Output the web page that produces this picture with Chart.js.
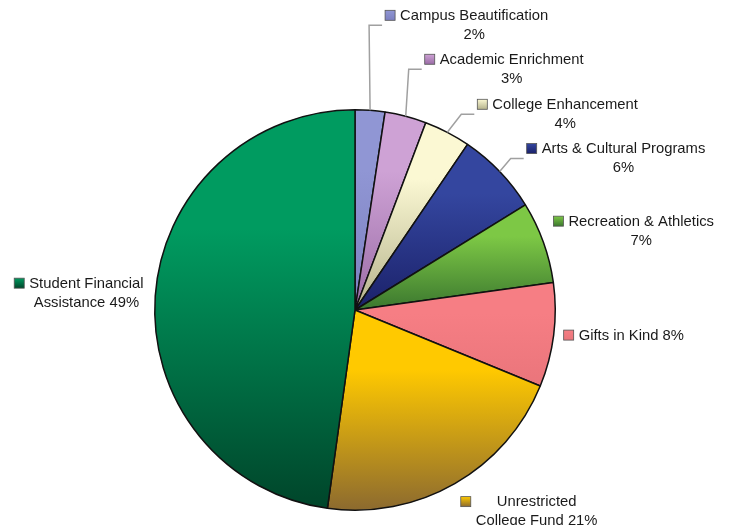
<!DOCTYPE html>
<html>
<head>
<meta charset="utf-8">
<script src="https://cdn.jsdelivr.net/npm/chart.js@4.4.1/dist/chart.umd.min.js"></script>
<style>
    html, body { margin: 0; padding: 0; background: #fff; }
    #wrap { width: 729px; height: 525px; position: relative; }
</style>
</head>
<body>
<div id="wrap"><canvas id="myChart"></canvas></div>
<script>
// slice names, share of the pie (as drawn) and the printed percentage labels
const categories = ['Campus Beautification', 'Academic Enrichment', 'College Enhancement', 'Arts & Cultural Programs',
    'Recreation & Athletics', 'Gifts in Kind', 'Unrestricted College Fund', 'Student Financial Assistance'];
const shares = [2.4, 3.35, 3.75, 6.7, 6.6, 8.4, 21.0, 47.8];
const pctLabels = ['2%', '3%', '4%', '6%', '7%', '8%', '21%', '49%'];

// label text lines for each slice
const labelLines = [
    ['Campus Beautification', '2%'],
    ['Academic Enrichment', '3%'],
    ['College Enhancement', '4%'],
    ['Arts & Cultural Programs', '6%'],
    ['Recreation & Athletics', '7%'],
    ['Gifts in Kind 8%'],
    ['Unrestricted', 'College Fund 21%'],
    ['Student Financial', 'Assistance 49%']
];

// light (top) and dark (bottom) fill of each slice
const topColors = ['#9096d4', '#cea2d5', '#fbf8d3', '#34469f', '#7dc845', '#f67e84', '#ffc900', '#009b60'];
const bottomColors = ['#7c80c0', '#9a6ca6', '#b4b28c', '#1b2169', '#3b772f', '#ea757b', '#8c6a2f', '#00452a'];

// where each label's key square sits, relative to the slice's outer mid point
const labelLayout = [
    { dx: 15, dy: -100, leader: true },
    { dx: 19, dy: -62, leader: true },
    { dx: 30, dy: -33, leader: true },
    { dx: 27, dy: -28, leader: true },
    { dx: 10, dy: -26, leader: false },
    { dx: 10, dy: -5, leader: false },
    { dx: 6, dy: 13, leader: false },
    { dx: -141, dy: -18, leader: false }
];

const fontSpec = '14.8px "Liberation Sans", Arial, sans-serif';

const arcBox = function (arc) {
    // vertical extent of a slice, used to stretch its gradient
    let ys = [arc.y];
    let a0 = arc.startAngle, a1 = arc.endAngle;
    let steps = 40;
    for (let i = 0; i <= steps; i++) {
        let a = a0 + (a1 - a0) * i / steps;
        ys.push(arc.y + Math.sin(a) * arc.outerRadius);
    }
    return { top: Math.min(...ys), bottom: Math.max(...ys) };
};

const gradientPlugin = {
    id: 'sliceGradient',
    beforeDatasetsDraw(chart) {
        const ctx = chart.ctx;
        const meta = chart.getDatasetMeta(0);
        meta.data.forEach(function (arc, i) {
            let box = arcBox(arc);
            let g = ctx.createLinearGradient(0, box.top, 0, box.bottom);
            g.addColorStop(0, topColors[i]);
            g.addColorStop(0.3, topColors[i]);
            g.addColorStop(1, bottomColors[i]);
            arc.options.backgroundColor = g;
        });
    }
};

const labelPlugin = {
    id: 'sliceLabels',
    afterDatasetsDraw(chart) {
        const ctx = chart.ctx;
        const meta = chart.getDatasetMeta(0);
        ctx.save();
        ctx.font = fontSpec;
        meta.data.forEach(function (arc, i) {
            let mid = (arc.startAngle + arc.endAngle) / 2;
            let ax = arc.x + Math.cos(mid) * arc.outerRadius;
            let ay = arc.y + Math.sin(mid) * arc.outerRadius;
            let lay = labelLayout[i];
            let sx = ax + lay.dx;
            let sy = ay + lay.dy;

            if (lay.leader) {
                ctx.strokeStyle = '#a0a0a0';
                ctx.lineWidth = 1.5;
                ctx.beginPath();
                ctx.moveTo(ax, ay);
                ctx.lineTo(Math.max(ax - 2, sx - 16), sy + 15);
                ctx.lineTo(sx - 3, sy + 15);
                ctx.stroke();
            }

            // key square
            let kg = ctx.createLinearGradient(0, sy, 0, sy + 10);
            kg.addColorStop(0, topColors[i]);
            kg.addColorStop(1, bottomColors[i]);
            ctx.fillStyle = kg;
            ctx.fillRect(sx, sy, 10, 10);
            ctx.strokeStyle = '#555';
            ctx.lineWidth = 0.8;
            ctx.strokeRect(sx, sy, 10, 10);

            let lines = labelLines[i];
            let maxW = 0;
            lines.forEach(function (t) { maxW = Math.max(maxW, ctx.measureText(t).width); });
            let cx = sx + 15 + maxW / 2;
            ctx.fillStyle = '#1a1a1a';
            ctx.textAlign = 'center';
            ctx.textBaseline = 'middle';
            lines.forEach(function (t, k) {
                ctx.fillText(t, cx, sy + 5.5 + k * 19);
            });
        });
        ctx.restore();
    }
};

const chartdata = {
    labels: categories,
    datasets: [{
        label: 'Share',
        data: shares,
        backgroundColor: topColors,
        borderColor: '#111',
        borderWidth: 1.5
    }]
};

var myPieChart = new Chart(document.getElementById('myChart'), {
    type: 'pie',
    data: chartdata,
    plugins: [gradientPlugin, labelPlugin],
    options: {
        responsive: true,
        maintainAspectRatio: false,
        animation: false,
        events: [],
        layout: {
            padding: { top: 109, bottom: 14, left: 154, right: 173 }
        },
        plugins: {
            legend: { display: false },
            tooltip: { enabled: false },
            title: { display: false }
        }
    }
});
</script>
</body>
</html>
